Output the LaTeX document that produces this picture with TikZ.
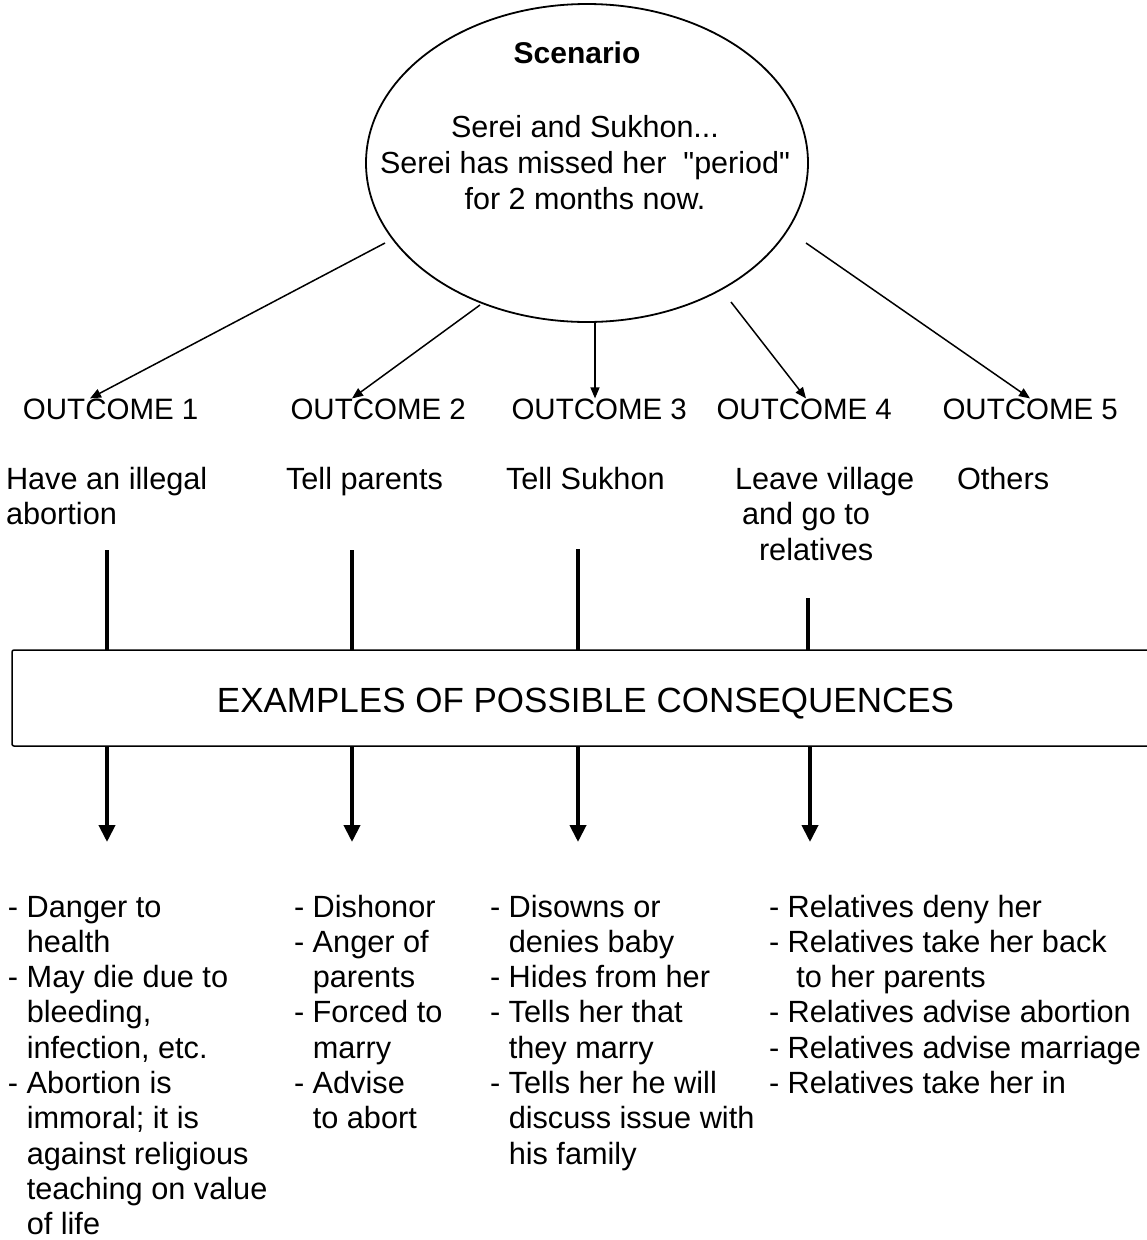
\documentclass[tikz,border=0pt]{standalone}
\usepackage{fontspec}
\setmainfont{Liberation Sans}[Ligatures=TeXOff]
\usetikzlibrary{shapes.geometric,arrows.meta,calc}
\newcommand\ind{\hphantom{-}\ }
\begin{document}
\begin{tikzpicture}[x=1pt,y=-1pt,
  every node/.style={inner sep=0pt,outer sep=0pt},
  txt/.style={font=\fontsize{30.7}{35.5}\selectfont,anchor=base west},
  lst/.style={font=\fontsize{30.7}{35.3}\selectfont,anchor=base west},
  outc/.style={font=\fontsize{29.5}{35.5}\selectfont,anchor=base west},
  thinarrow/.style={line width=1.5pt,-{Triangle[length=11pt,width=9pt]}},
  bar/.style={line width=4pt},
  bararrow/.style={line width=4pt,-{Triangle[length=17pt,width=16pt]}},
]
\useasboundingbox (0,0) rectangle (1147,1240);
\clip (0,0) rectangle (1147,1240);

% scenario ellipse
\node[ellipse,draw,line width=1.8pt,minimum width=442,minimum height=318] (scen) at (587,163) {};
\node[font=\fontsize{30}{36}\selectfont\bfseries,anchor=base] (scentitle) at (577,63) {Scenario};
\node[font=\fontsize{30.5}{36}\selectfont,anchor=base] (scenbody) at (585,137)
  {\begin{tabular}[t]{@{}c@{}}Serei and Sukhon...\\ Serei has missed her\ \ "period"\\ for 2 months now.\end{tabular}};

% outcomes
\node[outc] (o1) at (23,419) {OUTCOME 1};
\node[outc] (o2) at (290.5,419) {OUTCOME 2};
\node[outc] (o3) at (511.5,419) {OUTCOME 3};
\node[outc] (o4) at (716.5,419) {OUTCOME 4};
\node[outc] (o5) at (942.5,419) {OUTCOME 5};

% outcome descriptions
\node[txt] (d1) at (6,489) {\begin{tabular}[t]{@{}l@{}}Have an illegal\\ abortion\end{tabular}};
\node[txt] (d2) at (286,489) {Tell parents};
\node[txt] (d3) at (506,489) {Tell Sukhon};
\node[txt] (d4) at (735,489) {\begin{tabular}[t]{@{}l@{}}Leave village\\ \hspace{7pt}and go to\\ \hspace{24pt}relatives\end{tabular}};
\node[txt] (d5) at (957,489) {Others};

% arrows from scenario
\coordinate (s1) at (385,243);
\coordinate (s2) at (480,305);
\coordinate (s3) at (595,322);
\coordinate (s4) at (731,302);
\coordinate (s5) at (806,243);
\draw[thinarrow] (s1) -- ($(o1.north west)+(67,0)$);
\draw[thinarrow] (s2) -- ($(o2.north west)+(61.5,0)$);
\draw[thinarrow] (s3) -- ($(o3.north west)+(83.5,0)$);
\draw[thinarrow] (s4) -- ($(o4.north west)+(89.5,0)$);
\draw[thinarrow] (s5) -- ($(o5.north west)+(87.5,0)$);

% consequences box
\node[draw,line width=1.5pt,rounded corners=2pt,anchor=north west,minimum width=1160,minimum height=96] (box) at (12,650) {};
\node[font=\fontsize{35}{40}\selectfont,anchor=base] (boxtitle) at (585.5,712) {EXAMPLES OF POSSIBLE CONSEQUENCES};

% vertical bars
\coordinate (u1) at (107,550);
\coordinate (u2) at (352,550);
\coordinate (u3) at (578,549);
\coordinate (u4) at (808,598);
\draw[bar] (u1) -- (u1 |- box.north);
\draw[bar] (u2) -- (u2 |- box.north);
\draw[bar] (u3) -- (u3 |- box.north);
\draw[bar] (u4) -- (u4 |- box.north);
\coordinate (v1) at (107,842);
\coordinate (v2) at (352,842);
\coordinate (v3) at (578,842);
\coordinate (v4) at (810,842);
\draw[bararrow] (v1 |- box.south) -- (v1);
\draw[bararrow] (v2 |- box.south) -- (v2);
\draw[bararrow] (v3 |- box.south) -- (v3);
\draw[bararrow] (v4 |- box.south) -- (v4);

% consequences lists
\node[lst] (c1) at (8,917) {\begin{tabular}[t]{@{}l@{}}
- Danger to\\ \ind health\\ - May die due to\\ \ind bleeding,\\ \ind infection, etc.\\
- Abortion is\\ \ind immoral; it is\\ \ind against religious\\ \ind teaching on value\\ \ind of life\end{tabular}};
\node[lst] (c2) at (294,917) {\begin{tabular}[t]{@{}l@{}}
- Dishonor\\ - Anger of\\ \ind parents\\ - Forced to\\ \ind marry\\ - Advise\\ \ind to abort\end{tabular}};
\node[lst] (c3) at (490,917) {\begin{tabular}[t]{@{}l@{}}
- Disowns or\\ \ind denies baby\\ - Hides from her\\ - Tells her that\\ \ind they marry\\
- Tells her he will\\ \ind discuss issue with\\ \ind his family\end{tabular}};
\node[lst] (c4) at (769,917) {\begin{tabular}[t]{@{}l@{}}
- Relatives deny her\\ - Relatives take her back\\ \ind\ to her parents\\
- Relatives advise abortion\\ - Relatives advise marriage\\ - Relatives take her in\end{tabular}};
\end{tikzpicture}
\end{document}
